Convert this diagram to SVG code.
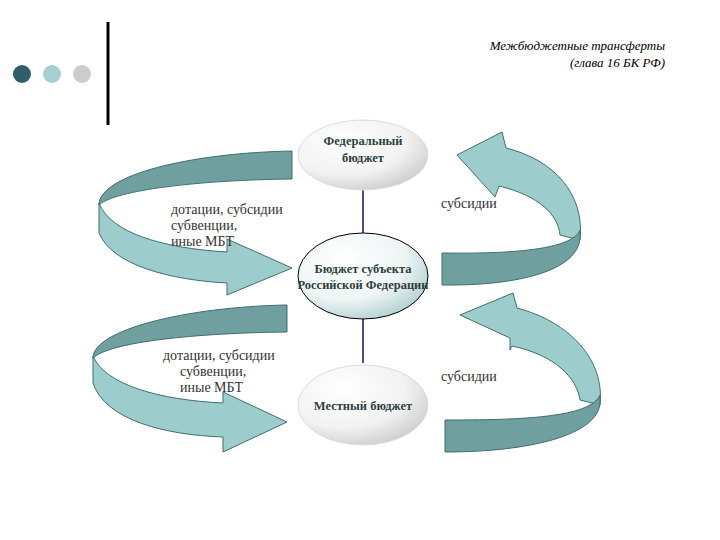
<svg xmlns="http://www.w3.org/2000/svg" width="720" height="540" viewBox="0 0 720 540">
<style>
text{font-family:'Liberation Serif','DejaVu Serif','Times New Roman',serif}
.lbl{font-size:14px;fill:#333}
.nd{font-size:12.5px;font-weight:bold;fill:#2f3f3f;text-anchor:middle}
.dk{fill:#6f9f9f;stroke:#3f6f6f;stroke-width:1}
.lt{fill:#9ccccc;stroke:#3f6f6f;stroke-width:1}
.conn{stroke:#5a4a7a;stroke-width:2}
</style>
<defs>
<radialGradient id="g" cx="0.35" cy="0.3" r="0.8">
<stop offset="0" stop-color="#ffffff"/><stop offset="0.6" stop-color="#f2f2f2"/><stop offset="1" stop-color="#c8c8c8"/>
</radialGradient>
<radialGradient id="g2" cx="0.35" cy="0.3" r="0.8">
<stop offset="0" stop-color="#ffffff"/><stop offset="0.6" stop-color="#eef4f4"/><stop offset="1" stop-color="#a8cccc"/>
</radialGradient>
</defs>
<rect width="720" height="540" fill="#fff"/>
<circle cx="22" cy="74" r="9" fill="#2f5f6a"/>
<circle cx="52" cy="74" r="9" fill="#a6cfd3"/>
<circle cx="82" cy="74" r="9" fill="#cccccc"/>
<line x1="108" y1="22" x2="108" y2="125" stroke="#000" stroke-width="3"/>
<text x="665" y="50" font-style="italic" font-size="13" text-anchor="end">Межбюджетные трансферты</text>
<text x="665" y="67" font-style="italic" font-size="13" text-anchor="end">(глава 16 БК РФ)</text>
<g id="arrows">
<path class="dk" d="M292,151 C190,153 99,175 99,205 C115,190 200,180 292,179 Z"/>
<path class="lt" d="M99,203 L99,233 C112,265 170,280 227,283 L227,295 L292,268 L227,239 L227,252 C160,248 110,232 99,203 Z"/>
<path class="dk" d="M287,305 C185,307 93,330 93,358 C110,342 195,333 287,332 Z"/>
<path class="lt" d="M93,356 L93,383 C105,420 165,435 223,437 L223,452 L287,422 L223,392 L223,403 C160,400 105,385 93,356 Z"/>
<path class="lt" d="M457,155 L502,132 L506,148 C555,160 585,195 580,240 L560,235 C558,215 540,196 499,186 L495,197 Z"/>
<path class="dk" d="M580,230 C572,250 510,254 442,253 L442,285 C520,286 578,270 580,238 Z"/>
<path class="lt" d="M460,315 L513,293 L517,308 C570,322 605,360 600,405 L580,400 C577,378 555,355 512,346 L510,350 L510,338 Z"/>
<path class="dk" d="M600,395 C590,418 520,420 445,420 L445,452 C530,452 598,435 600,403 Z"/>
</g>
<g id="connectors">
<line class="conn" x1="363" y1="190" x2="363" y2="234"/>
<line class="conn" x1="363" y1="318" x2="363" y2="363"/>
</g>
<g id="federal">
<ellipse cx="363" cy="155" rx="65" ry="35" fill="url(#g)" stroke="#ddd"/>
<text class="nd" x="363" y="145">Федеральный</text>
<text class="nd" x="363" y="162">бюджет</text>
</g>
<g id="subject">
<ellipse cx="363" cy="276" rx="65" ry="43" fill="url(#g2)" stroke="#000"/>
<text class="nd" x="363" y="273">Бюджет субъекта</text>
<text class="nd" x="363" y="289">Российской Федерации</text>
</g>
<g id="local">
<ellipse cx="363" cy="405" rx="65" ry="40" fill="url(#g)" stroke="#ddd"/>
<text class="nd" x="363" y="410">Местный бюджет</text>
</g>
<g id="labels">
<text class="lbl" x="171" y="214">дотации, субсидии</text>
<text class="lbl" x="171" y="230">субвенции,</text>
<text class="lbl" x="171" y="246">иные МБТ</text>
<text class="lbl" x="441" y="208" font-size="16">субсидии</text>
<text class="lbl" x="163" y="360">дотации, субсидии</text>
<text class="lbl" x="180" y="376">субвенции,</text>
<text class="lbl" x="180" y="392">иные МБТ</text>
<text class="lbl" x="441" y="381">субсидии</text>
</g>
</svg>
